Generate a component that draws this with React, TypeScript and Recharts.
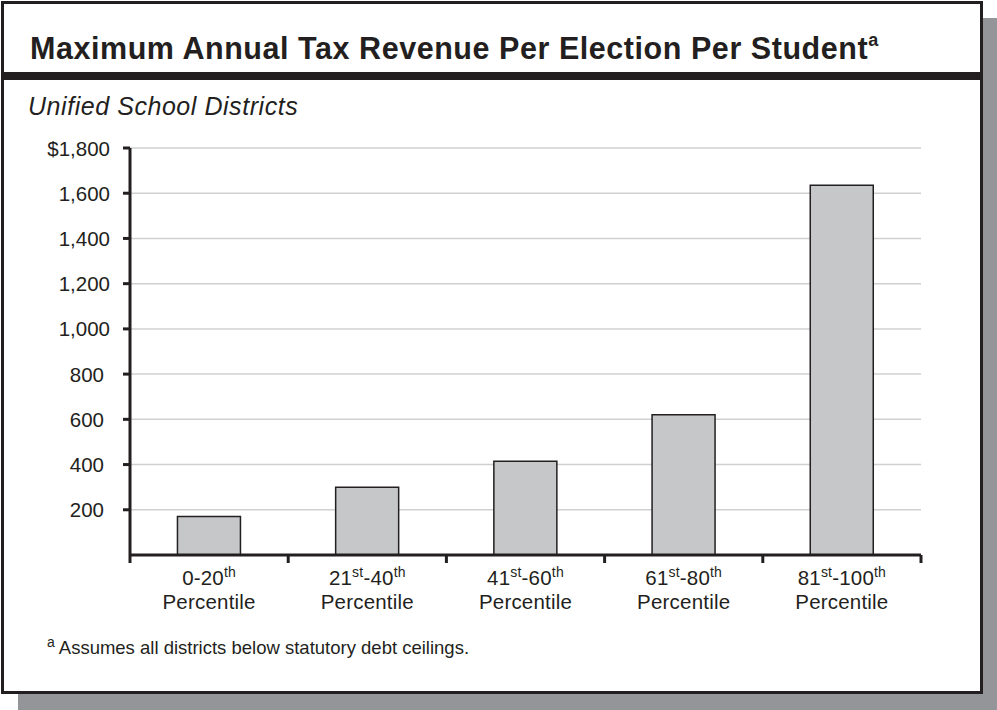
import React from 'react';
import { BarChart, Bar, XAxis, YAxis, CartesianGrid } from 'recharts';

// chart values
const categories = ['0-20th', '21st-40th', '41st-60th', '61st-80th', '81st-100th'];
const revenue = [170, 300, 415, 620, 1635];
const yTicks = [0, 200, 400, 600, 800, 1000, 1200, 1400, 1600, 1800];

const title = 'Maximum Annual Tax Revenue Per Election Per Student';
const subtitle = 'Unified School Districts';
const footnote = 'Assumes all districts below statutory debt ceilings.';

const data = categories.map((c, i) => ({ label: c, value: revenue[i] }));

const W = 997;
const H = 710;
const INK = '#231f20';
const FONT = '"Liberation Sans", Arial, Helvetica, sans-serif';
const MARGIN = { top: 148, right: 76, left: 0, bottom: 75 };
const Y_W = 130;
const BAND = (W - MARGIN.left - Y_W - MARGIN.right) / categories.length;

// split "21st-40th" into plain and superscript pieces
const splitOrdinal = (s: string) => {
  const parts: { t: string; sup: boolean }[] = [];
  s.split(/(st|nd|rd|th)/).forEach(p => {
    if (!p) return;
    parts.push({ t: p, sup: /^(st|nd|rd|th)$/.test(p) });
  });
  return parts;
};

const YTick = ({ x, y, payload }: any) => {
  const v = payload.value;
  if (v === 0) return null;
  const txt = (v === 1800 ? '$' : '') + v.toLocaleString('en-US');
  const dx = v >= 1000 ? 20 : 26;
  return (
    <g>
      <line x1={x - 7} x2={x} y1={y} y2={y} stroke={INK} strokeWidth={3} />
      <text x={x - dx} y={y} dy="0.37em" textAnchor="end" fontSize={20.5} fill={INK} fontFamily={FONT}>
        {txt}
      </text>
    </g>
  );
};

const XTick = ({ x, y, payload, index }: any) => {
  const half = payload.offset || BAND / 2;
  let lift = 0;
  const pieces = splitOrdinal(payload.value).map((p, i) => {
    let dy = 0;
    if (p.sup && lift === 0) { dy = -8; lift = -8; }
    else if (!p.sup && lift !== 0) { dy = 8; lift = 0; }
    return (
      <tspan key={i} dy={dy} fontSize={p.sup ? 14 : 20.5}>{p.t}</tspan>
    );
  });
  return (
    <g>
      <line x1={x - half} x2={x - half} y1={y} y2={y + 8} stroke={INK} strokeWidth={3} />
      {index === categories.length - 1 && (
        <line x1={x + half} x2={x + half} y1={y} y2={y + 8} stroke={INK} strokeWidth={3} />
      )}
      <text x={x} y={y + 30} textAnchor="middle" fontSize={20.5} fill={INK} fontFamily={FONT} letterSpacing={0.2}>
        {pieces}
      </text>
      <text x={x} y={y + 54} textAnchor="middle" fontSize={20.5} fill={INK} fontFamily={FONT} letterSpacing={0.2}>
        Percentile
      </text>
    </g>
  );
};

export default function App() {
  return (
    <div style={{ position: 'absolute', left: 0, top: 0, width: W, height: H, background: '#fff', fontFamily: FONT, color: INK, overflow: 'hidden' }}>
      {/* drop shadow */}
      <div style={{ position: 'absolute', left: 18, top: 18, right: 0, bottom: 0, background: '#939598' }} />
      {/* framed panel */}
      <div style={{ position: 'absolute', left: 1, top: 1, width: 982, height: 693, boxSizing: 'border-box', border: `3px solid ${INK}`, background: '#fff' }}>
        <div style={{ position: 'absolute', left: 0, right: 0, top: 68, height: 8, background: INK }} />
      </div>

      <div style={{ position: 'absolute', left: 30, top: 22, fontSize: 30.5, fontWeight: 700, letterSpacing: 0.55, whiteSpace: 'nowrap', lineHeight: '40px' }}>
        {title}
        <sup style={{ fontSize: 18, position: 'relative', top: -2 }}>a</sup>
      </div>
      <div style={{ position: 'absolute', left: 28, top: 90, fontSize: 25, fontStyle: 'italic', letterSpacing: 0.55, whiteSpace: 'nowrap', lineHeight: '32px' }}>
        {subtitle}
      </div>
      <div style={{ position: 'absolute', left: 47, top: 636, fontSize: 18.5, whiteSpace: 'nowrap', lineHeight: '24px' }}>
        <span style={{ fontSize: 14, position: 'relative', top: -7, marginRight: 4 }}>a</span>
        {footnote}
      </div>

      <div style={{ position: 'absolute', left: 0, top: 0 }}>
        <BarChart width={W} height={H} data={data} margin={MARGIN} barCategoryGap="30%">
          <CartesianGrid vertical={false} stroke="#cfd0d2" strokeWidth={1.5} />
          <YAxis
            width={Y_W}
            domain={[0, 1800]}
            ticks={yTicks}
            interval={0}
            axisLine={{ stroke: INK, strokeWidth: 3 }}
            tickLine={false}
            tickSize={0}
            tickMargin={0}
            tick={<YTick />}
          />
          <XAxis
            dataKey="label"
            height={80}
            interval={0}
            axisLine={{ stroke: INK, strokeWidth: 3 }}
            tickLine={false}
            tickSize={0}
            tickMargin={0}
            tick={<XTick />}
          />
          <Bar dataKey="value" fill="#c6c7c9" stroke={INK} strokeWidth={1.5} isAnimationActive={false} />
        </BarChart>
      </div>
    </div>
  );
}
